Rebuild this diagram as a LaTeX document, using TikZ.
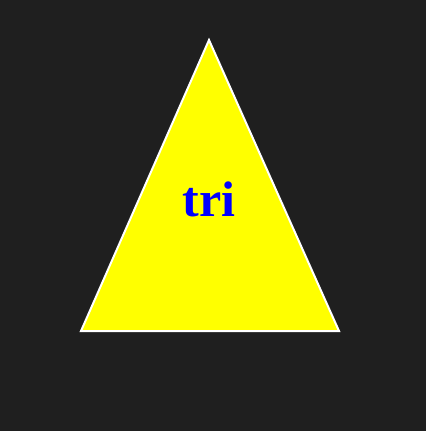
\documentclass[tikz,border=0pt]{standalone}
\usepackage{fontspec}
\setmainfont{Liberation Serif}
\definecolor{bg}{HTML}{1F1F1F}
\definecolor{triyellow}{HTML}{FFFF00}
\tikzset{
  tri/.style={draw=white, fill=triyellow, line width=2pt, line join=miter},
  lbl/.style={text=blue, font=\fontsize{50}{54}\selectfont\bfseries, inner sep=0pt, anchor=base}
}
\begin{document}
\begin{tikzpicture}[x=1pt,y=-1pt]
\fill[bg] (0,0) rectangle (426,431);
\useasboundingbox (0,0) rectangle (426,431);
\coordinate (apex) at (209,40);
\coordinate (bl) at (81,331);
\coordinate (br) at (339,331);
\draw[tri] (apex) -- (br) -- (bl) -- cycle;
\node[lbl] (t) at (209,216) {tri};
\end{tikzpicture}
\end{document}
